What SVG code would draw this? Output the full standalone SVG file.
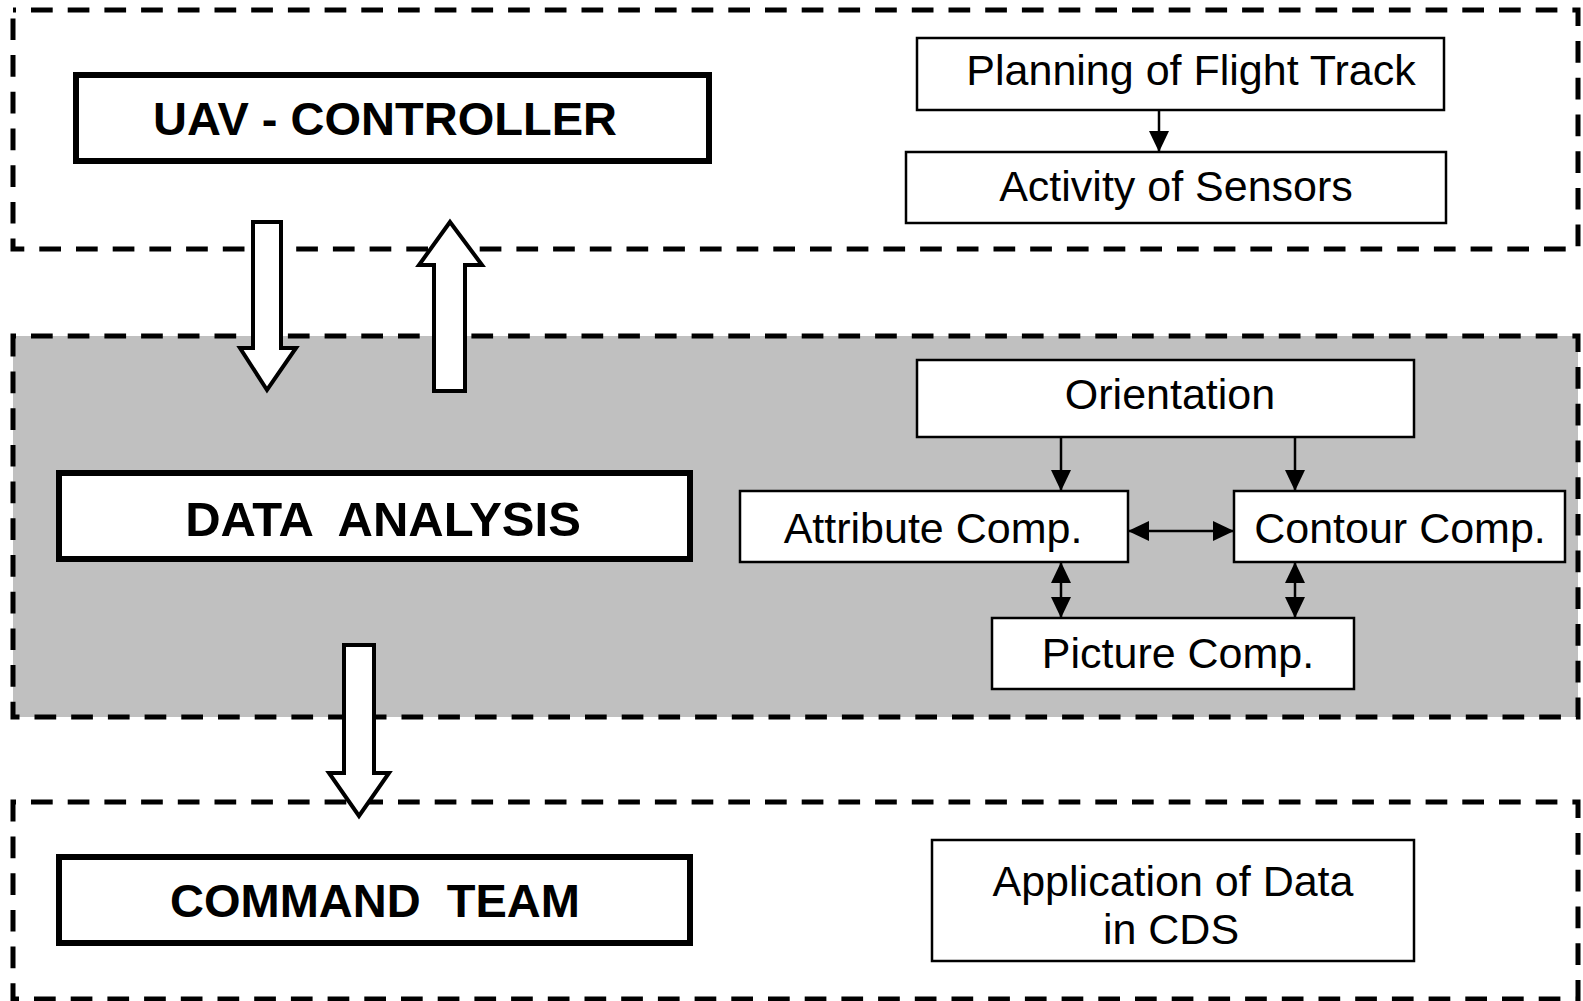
<svg xmlns="http://www.w3.org/2000/svg" width="1583" height="1001" viewBox="0 0 1583 1001">
<style>
.region{fill:none;stroke:#000;stroke-width:5;stroke-dasharray:21.7 15;stroke-dashoffset:18.7}
.main{fill:#fff;stroke:#000;stroke-width:6}
.sub{fill:#fff;stroke:#000;stroke-width:2.5}
.bold{font-family:"Liberation Sans",Arial,sans-serif;font-weight:bold;font-size:47px;text-anchor:middle;fill:#000}
.lbl{font-family:"Liberation Sans",Arial,sans-serif;font-size:43px;text-anchor:middle;fill:#000}
.conn{fill:none;stroke:#000;stroke-width:2.5}
.big{fill:#fff;stroke:#000;stroke-width:4;stroke-linejoin:miter}
</style>
<defs>
<marker id="ah" viewBox="0 0 21 20" refX="21" refY="10" markerWidth="21" markerHeight="20" markerUnits="userSpaceOnUse" orient="auto-start-reverse">
<path d="M0,0 L21,10 L0,20 Z" fill="#000"/>
</marker>
</defs>
<rect width="1583" height="1001" fill="#fff"/>
<g id="regions">
<rect id="region-uav" class="region" x="13" y="10" width="1565" height="239"/>
<rect id="region-analysis" class="region" x="13" y="336" width="1565" height="381" style="fill:#C0C0C0"/>
<rect id="region-command" class="region" x="13" y="802" width="1565" height="197"/>
</g>
<g id="uav-controller">
<rect class="main" x="76" y="75" width="633" height="86"/>
<text class="bold" x="385" y="135">UAV - CONTROLLER</text>
</g>
<g id="planning">
<rect class="sub" x="917" y="38" width="527" height="72"/>
<text class="lbl" x="1191" y="85">Planning of Flight Track</text>
</g>
<g id="activity">
<rect class="sub" x="906" y="152" width="540" height="71"/>
<text class="lbl" x="1176" y="201">Activity of Sensors</text>
</g>
<g id="data-analysis">
<rect class="main" x="59" y="473" width="631" height="86"/>
<text class="bold" x="383" y="536" xml:space="preserve" style="font-size:49px">DATA  ANALYSIS</text>
</g>
<g id="orientation">
<rect class="sub" x="917" y="360" width="497" height="77"/>
<text class="lbl" x="1170" y="409">Orientation</text>
</g>
<g id="attribute">
<rect class="sub" x="740" y="491" width="388" height="71"/>
<text class="lbl" x="933" y="543">Attribute Comp.</text>
</g>
<g id="contour">
<rect class="sub" x="1234" y="491" width="331" height="71"/>
<text class="lbl" x="1400" y="543">Contour Comp.</text>
</g>
<g id="picture">
<rect class="sub" x="992" y="618" width="362" height="71"/>
<text class="lbl" x="1178" y="668">Picture Comp.</text>
</g>
<g id="command-team">
<rect class="main" x="59" y="857" width="631" height="86"/>
<text class="bold" x="375" y="917" xml:space="preserve">COMMAND  TEAM</text>
</g>
<g id="application">
<rect class="sub" x="932" y="840" width="482" height="121"/>
<text class="lbl" x="1173" y="896">Application of Data</text>
<text class="lbl" x="1171" y="944">in CDS</text>
</g>
<g id="connectors">
<line class="conn" x1="1159" y1="110" x2="1159" y2="152" marker-end="url(#ah)"/>
<line class="conn" x1="1061" y1="437" x2="1061" y2="491" marker-end="url(#ah)"/>
<line class="conn" x1="1295" y1="437" x2="1295" y2="491" marker-end="url(#ah)"/>
<line class="conn" x1="1128" y1="531" x2="1234" y2="531" marker-start="url(#ah)" marker-end="url(#ah)"/>
<line class="conn" x1="1061" y1="562" x2="1061" y2="618" marker-start="url(#ah)" marker-end="url(#ah)"/>
<line class="conn" x1="1295" y1="562" x2="1295" y2="618" marker-start="url(#ah)" marker-end="url(#ah)"/>
<polygon class="big" points="253,222 281,222 281,348 296,348 267,390 240,348 253,348"/>
<polygon class="big" points="450,222 482,265 465,265 465,391 434,391 434,265 419,265"/>
<polygon class="big" points="344,645 374,645 374,773 389,773 359,816 329,773 344,773"/>
</g>
</svg>
